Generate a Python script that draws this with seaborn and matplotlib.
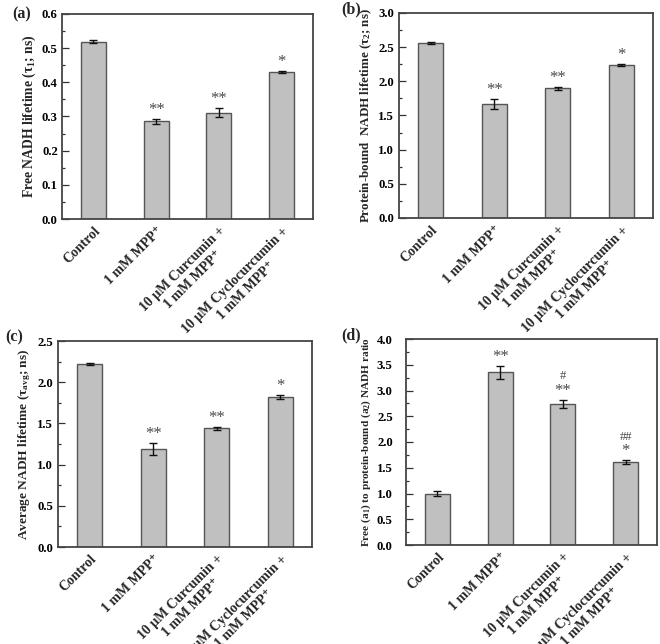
import matplotlib
matplotlib.use("Agg")
import matplotlib.pyplot as plt
from matplotlib.ticker import MultipleLocator, FormatStrFormatter
import seaborn as sns

sns.set_theme(style="ticks")
plt.rcParams["font.family"] = ["Liberation Serif", "DejaVu Serif"]
plt.rcParams["font.weight"] = "bold"
plt.rcParams["mathtext.fontset"] = "custom"
plt.rcParams["mathtext.rm"] = "Liberation Serif:bold"
plt.rcParams["mathtext.it"] = "Liberation Serif:bold"
plt.rcParams["mathtext.bf"] = "Liberation Serif:bold"
plt.rcParams["mathtext.default"] = "regular"

groups = ["Control", "1 mM MPP⁺", "10 μM Curcumin +\n1 mM MPP⁺", "10 μM Cyclocurcumin +\n1 mM MPP⁺"]

tau1 = [0.519, 0.286, 0.311, 0.430]
tau1_err = [0.005, 0.007, 0.013, 0.004]
tau1_marks = ["", "**", "**", "*"]

tau2 = [2.56, 1.67, 1.90, 2.24]
tau2_err = [0.01, 0.07, 0.02, 0.02]
tau2_marks = ["", "**", "**", "*"]

tau_avg = [2.22, 1.19, 1.44, 1.82]
tau_avg_err = [0.015, 0.075, 0.02, 0.02]
tau_avg_marks = ["", "**", "**", "*"]

ratio = [1.00, 3.35, 2.74, 1.61]
ratio_err = [0.05, 0.12, 0.08, 0.04]
ratio_marks = ["", "**", "**", "*"]
ratio_hash = ["", "", "#", "##"]

BAR = "#c0c0c0"
EDGE = "#555555"
MARK = "#4a4a4a"
W, H = 660, 644

fig = plt.figure(figsize=(6.6, 6.44), dpi=100)


def panel(box, vals, errs, marks, ymax, major, ylabel, tag, tag_xy,
          ylabel_size=9.8, tick_pad=3, hashes=None):
    left, top, right, bottom = box
    ax = fig.add_axes([left / W, 1 - bottom / H, (right - left) / W, (bottom - top) / H])
    sns.barplot(x=groups, y=vals, color=BAR, edgecolor=EDGE, linewidth=1.0,
                width=0.4, saturation=1, ax=ax)
    ax.errorbar(range(len(vals)), vals, yerr=errs, fmt="none", ecolor="#111111",
                elinewidth=1.0, capsize=3, capthick=1.0)
    for i, (v, e, m) in enumerate(zip(vals, errs, marks)):
        if m:
            ax.text(i, v + e + ymax * 0.005, m, ha="center", va="bottom",
                    fontsize=12, color=MARK, fontweight="normal")
        if hashes and hashes[i]:
            ax.text(i, v + e + ymax * 0.085, hashes[i], ha="center", va="bottom",
                    fontsize=9, color=MARK, fontweight="normal")
    ax.set_xlim(-0.5, 3.5)
    ax.set_ylim(0, ymax)
    ax.yaxis.set_major_locator(MultipleLocator(major))
    ax.yaxis.set_minor_locator(MultipleLocator(major / 2))
    ax.yaxis.set_major_formatter(FormatStrFormatter("%.1f"))
    ax.tick_params(axis="y", which="major", direction="in", length=5, width=0.9,
                   colors="#333333", labelcolor="black", labelsize=9.2, pad=tick_pad)
    ax.tick_params(axis="y", which="minor", direction="in", length=2.5, width=0.9,
                   colors="#333333")
    ax.tick_params(axis="x", length=0, pad=4)
    for lbl in ax.get_yticklabels():
        lbl.set_fontweight("bold")
    ax.set_xticks(range(len(groups)))
    ax.set_xticklabels(groups, rotation=45, ha="right", rotation_mode="anchor",
                       fontsize=10, fontweight="bold", multialignment="center")
    for s in ax.spines.values():
        s.set_visible(True)
        s.set_color("#444444")
        s.set_linewidth(1.3)
    ax.set_xlabel("")
    ax.set_ylabel(ylabel, fontsize=ylabel_size, fontweight="bold", labelpad=3)
    fig.text(tag_xy[0] / W, 1 - tag_xy[1] / H, tag, fontsize=11.5, fontweight="bold",
             ha="left", va="center")
    return ax


panel((62, 14, 313, 219), tau1, tau1_err, tau1_marks,
      0.6, 0.1, "Free NADH lifetime (τ$_1$; ns)", "(a)", (12, 14))
panel((399, 13, 653, 218), tau2, tau2_err, tau2_marks,
      3.0, 0.5, "Protein-bound  NADH lifetime (τ$_2$; ns)", "(b)", (341, 9),
      ylabel_size=9.4, tick_pad=3.5)
panel((58, 341, 312, 547), tau_avg, tau_avg_err, tau_avg_marks,
      2.5, 0.5, "Average NADH lifetime (τ$_{avg}$; ns)", "(c)", (5, 337),
      ylabel_size=9.6, tick_pad=3.5)
panel((406, 339, 657, 545), ratio, ratio_err, ratio_marks,
      4.0, 0.5, "Free (a$_1$) to protein-bound (a$_2$) NADH ratio", "(d)", (341, 335),
      ylabel_size=8.1, tick_pad=9.5, hashes=ratio_hash)

fig.savefig("out.png", dpi=100)
